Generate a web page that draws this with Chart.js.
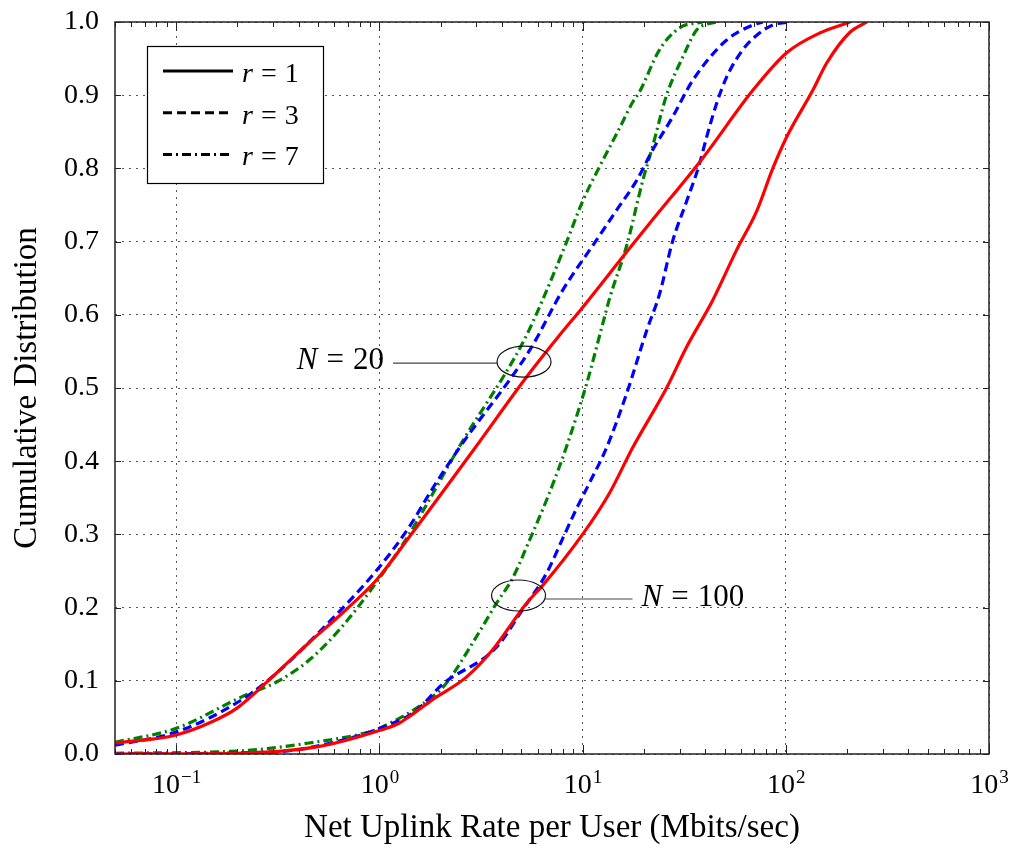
<!DOCTYPE html>
<html>
<head>
<meta charset="utf-8">
<script src="https://cdn.jsdelivr.net/npm/chart.js@4.4.1/dist/chart.umd.min.js"></script>
<style>
  html, body { margin: 0; background: #fff; }
  #wrap { width: 1013px; height: 853px; }
</style>
</head>
<body>
<div id="wrap"><canvas id="cdfChart"></canvas></div>
<script>
// CDF curves: [net uplink rate (Mbit/s), cumulative probability]
const r1N20 = [[0.05, 0.015], [0.1, 0.026], [0.15, 0.044], [0.2, 0.063], [0.31, 0.11], [0.45, 0.152],
  [0.66, 0.193], [0.97, 0.238], [1.4, 0.296], [2.9, 0.415], [5.3, 0.515], [7.7, 0.572], [10, 0.61],
  [16.5, 0.686], [21.4, 0.725], [39, 0.814], [69, 0.907], [101, 0.958], [147, 0.985], [207, 1.0]];
const r3N20 = [[0.05, 0.012], [0.1, 0.03], [0.21, 0.074], [0.31, 0.11], [0.52, 0.17], [0.97, 0.251],
  [1.4, 0.31], [1.82, 0.362], [2.5, 0.42], [5.5, 0.552], [8, 0.634], [11.7, 0.702], [14.7, 0.743],
  [18.5, 0.784], [22.1, 0.825], [27.7, 0.87], [34.8, 0.92], [51, 0.975], [69, 0.996], [77, 1.0]];
const r7N20 = [[0.05, 0.016], [0.1, 0.035], [0.21, 0.078], [0.31, 0.098], [0.45, 0.128], [0.66, 0.175],
  [0.97, 0.235], [1.4, 0.3], [2.2, 0.395], [2.5, 0.422], [5.06, 0.561], [6.35, 0.62], [8.3, 0.698],
  [10, 0.755], [12.1, 0.802], [15.2, 0.855], [17.6, 0.89], [19.1, 0.905], [23.9, 0.962], [30, 0.992],
  [39, 1.0]];

const r1N100 = [[0.05, 0.0], [0.2, 0.001], [0.5, 0.01], [1.0, 0.032], [1.25, 0.042], [1.4, 0.051],
  [1.82, 0.074], [2.68, 0.105], [3.6, 0.142], [5.3, 0.206], [6.35, 0.23], [10, 0.3], [13.6, 0.357],
  [17.6, 0.418], [25.9, 0.5], [32.5, 0.556], [43.7, 0.62], [57.4, 0.689], [72, 0.742], [86.3, 0.8],
  [101, 0.843], [136, 0.907], [159, 0.944], [207, 0.986], [251, 1.0]];
const r3N100 = [[0.05, 0.0], [0.31, 0.003], [0.66, 0.019], [1.0, 0.035], [1.5, 0.058], [2.04, 0.095],
  [3.77, 0.146], [5.06, 0.197], [6.65, 0.247], [8, 0.295], [9.33, 0.335], [10.8, 0.37], [13.1, 0.418],
  [16.5, 0.493], [20.7, 0.579], [23.9, 0.628], [27.7, 0.7], [32.5, 0.755], [37.5, 0.805], [40.8, 0.843],
  [45.7, 0.889], [51.2, 0.925], [61.4, 0.962], [72, 0.982], [86.3, 0.996], [105, 1.0]];
const r7N100 = [[0.05, 0.001], [0.2, 0.004], [0.45, 0.015], [0.89, 0.03], [1.0, 0.035], [1.82, 0.078],
  [2.14, 0.097], [3.0, 0.16], [3.77, 0.206], [4.52, 0.24], [5.48, 0.292], [6.65, 0.347], [7.7, 0.393],
  [8.34, 0.42], [10.5, 0.507], [12.6, 0.589], [13.6, 0.623], [16.5, 0.695], [19.8, 0.784], [22.1, 0.83],
  [25.9, 0.9], [31.1, 0.952], [36.4, 0.989], [40.8, 0.997], [45.7, 1.0]];

const rValues = ['1', '3', '7'];
const userGroups = ['20', '100'];
const xDecades = [0.1, 1, 10, 100, 1000];

const rColors = ['#ff0000', '#0000ff', '#008000'];
const rDashes = [[], [9, 5], [9, 4, 2, 4]];
const serif = '"Liberation Serif", "Times New Roman", serif';

const curves = [[r1N20, r3N20, r7N20], [r1N100, r3N100, r7N100]];

const datasets = [];
curves.forEach((group, g) => {
    group.forEach((pts, i) => {
        datasets.push({
            label: 'r = ' + rValues[i] + ', N = ' + userGroups[g],
            data: pts.map(p => ({ x: p[0], y: p[1] })),
            borderColor: rColors[i],
            borderDash: rDashes[i],
            borderWidth: 3.2,
            pointRadius: 0,
            fill: false,
            cubicInterpolationMode: 'monotone'
        });
    });
});

// "N = 20" style label: italic symbol, equals sign, value
function mathWidth(ctx, sym, value, size, gap) {
    ctx.font = 'italic ' + size + 'px ' + serif;
    const w = ctx.measureText(sym).width;
    ctx.font = size + 'px ' + serif;
    return w + ctx.measureText('=').width + ctx.measureText(value).width + 2 * gap;
}
function drawMath(ctx, sym, value, x, base, size, gap) {
    ctx.fillStyle = '#000';
    ctx.textAlign = 'left';
    ctx.textBaseline = 'alphabetic';
    ctx.font = 'italic ' + size + 'px ' + serif;
    ctx.fillText(sym, x, base);
    let cx = x + ctx.measureText(sym).width + gap;
    ctx.font = size + 'px ' + serif;
    ctx.fillText('=', cx, base);
    cx += ctx.measureText('=').width + gap;
    ctx.fillText(value, cx, base);
}

const decor = {
    id: 'decor',
    afterDraw(chart, args, opts) {
        const { ctx, chartArea: a, scales: { x, y } } = chart;
        ctx.save();

        // inward tick marks on all four sides
        ctx.strokeStyle = '#222';
        ctx.lineWidth = 1;
        ctx.setLineDash([]);
        ctx.beginPath();
        for (let e = -2; e <= 3; e++) {
            for (let m = 1; m <= 9; m++) {
                const v = m * Math.pow(10, e);
                if (v < x.min || v > x.max) continue;
                const px = Math.round(x.getPixelForValue(v)) + 0.5;
                const len = m === 1 ? 9 : 5;
                ctx.moveTo(px, a.bottom); ctx.lineTo(px, a.bottom - len);
                ctx.moveTo(px, a.top); ctx.lineTo(px, a.top + len);
            }
        }
        y.ticks.forEach(t => {
            const py = Math.round(y.getPixelForValue(t.value)) + 0.5;
            ctx.moveTo(a.left, py); ctx.lineTo(a.left + 6, py);
            ctx.moveTo(a.right, py); ctx.lineTo(a.right - 6, py);
        });
        ctx.stroke();

        // frame
        ctx.lineWidth = 1.5;
        ctx.strokeRect(a.left, a.top, a.right - a.left, a.bottom - a.top);

        // decade labels 10^n with raised exponent
        ctx.fillStyle = '#000';
        ctx.textBaseline = 'alphabetic';
        ctx.textAlign = 'left';
        xDecades.forEach(v => {
            const px = x.getPixelForValue(v);
            const p = Math.round(Math.log10(v));
            const ex = p < 0 ? '\u2212' + (-p) : String(p);
            ctx.font = '28px ' + serif;
            const wb = ctx.measureText('10').width;
            ctx.font = '19px ' + serif;
            const we = ctx.measureText(ex).width;
            const x0 = px - (wb + we) / 2;
            ctx.font = '28px ' + serif;
            ctx.fillText('10', x0, a.bottom + 39);
            ctx.font = '19px ' + serif;
            ctx.fillText(ex, x0 + wb + 1, a.bottom + 29);
        });

        // legend box, black line samples
        const lx = a.left + 32, ly = a.top + 24;
        ctx.fillStyle = '#fff';
        ctx.fillRect(lx, ly, 176, 137);
        ctx.strokeStyle = '#000';
        ctx.lineWidth = 1.2;
        ctx.strokeRect(lx + 0.5, ly + 0.5, 176, 137);
        rValues.forEach((r, i) => {
            const rowY = ly + 25 + i * 41.7;
            ctx.setLineDash(rDashes[i]);
            ctx.lineWidth = 3;
            ctx.strokeStyle = '#000';
            ctx.beginPath();
            ctx.moveTo(lx + 16, rowY);
            ctx.lineTo(lx + 86, rowY);
            ctx.stroke();
            ctx.setLineDash([]);
            drawMath(ctx, 'r', r, lx + 95, rowY + 11, 28, 8);
        });

        // N annotations with ellipses
        opts.notes.forEach(n => {
            const cx = x.getPixelForValue(n.at[0]);
            const cy = y.getPixelForValue(n.at[1]);
            ctx.strokeStyle = '#111';
            ctx.lineWidth = 1.2;
            ctx.beginPath();
            ctx.ellipse(cx, cy, 27, 15.5, 0, 0, Math.PI * 2);
            ctx.stroke();
            ctx.strokeStyle = '#444';
            ctx.beginPath();
            if (n.side === 'left') {
                ctx.moveTo(cx - 27, cy + 1.5);
                ctx.lineTo(cx - 131, cy + 1.5);
                ctx.stroke();
                const w = mathWidth(ctx, 'N', n.value, 31, 9);
                drawMath(ctx, 'N', n.value, cx - 140 - w, cy + 7, 31, 9);
            } else {
                ctx.moveTo(cx + 27, cy + 3.5);
                ctx.lineTo(cx + 114, cy + 3.5);
                ctx.stroke();
                drawMath(ctx, 'N', n.value, cx + 123, cy + 10, 31, 9);
            }
        });
        ctx.restore();
    }
};

new Chart(document.getElementById('cdfChart'), {
    type: 'line',
    data: { datasets: datasets },
    plugins: [decor],
    options: {
        responsive: true,
        maintainAspectRatio: false,
        animation: false,
        layout: { padding: { top: 22, right: 24, left: 0, bottom: 0 } },
        plugins: {
            legend: { display: false },
            tooltip: { enabled: false },
            decor: {
                notes: [
                    { value: userGroups[0], at: [5.15, 0.536], side: 'left' },
                    { value: userGroups[1], at: [4.84, 0.2165], side: 'right' }
                ]
            }
        },
        scales: {
            x: {
                type: 'logarithmic',
                min: 0.05,
                max: 1000,
                afterBuildTicks: s => { s.ticks = xDecades.map(v => ({ value: v, major: true })); },
                afterFit: s => { s.height = 99; s.paddingLeft = 0; s.paddingRight = 0; },
                grid: { color: '#555', lineWidth: 1, drawTicks: false },
                border: { display: false, dash: [2, 5] },
                ticks: { display: false, autoSkip: false },
                title: {
                    display: true,
                    text: 'Net Uplink Rate per User (Mbits/sec)',
                    color: '#000',
                    font: { family: serif, size: 33, lineHeight: 1.2 },
                    padding: { top: 0, bottom: 5 }
                }
            },
            y: {
                min: 0,
                max: 1,
                afterFit: s => { s.width = 115; s.paddingTop = 0; s.paddingBottom = 0; },
                grid: { color: '#555', lineWidth: 1, drawTicks: false },
                border: { display: false, dash: [2, 5] },
                ticks: {
                    stepSize: 0.1,
                    padding: 16,
                    color: '#000',
                    font: { family: serif, size: 28 },
                    callback: v => v.toFixed(1)
                },
                title: {
                    display: true,
                    text: 'Cumulative Distribution',
                    color: '#000',
                    font: { family: serif, size: 33, lineHeight: 1.2 },
                    padding: { top: 8, bottom: 0 }
                }
            }
        }
    }
});
</script>
</body>
</html>
